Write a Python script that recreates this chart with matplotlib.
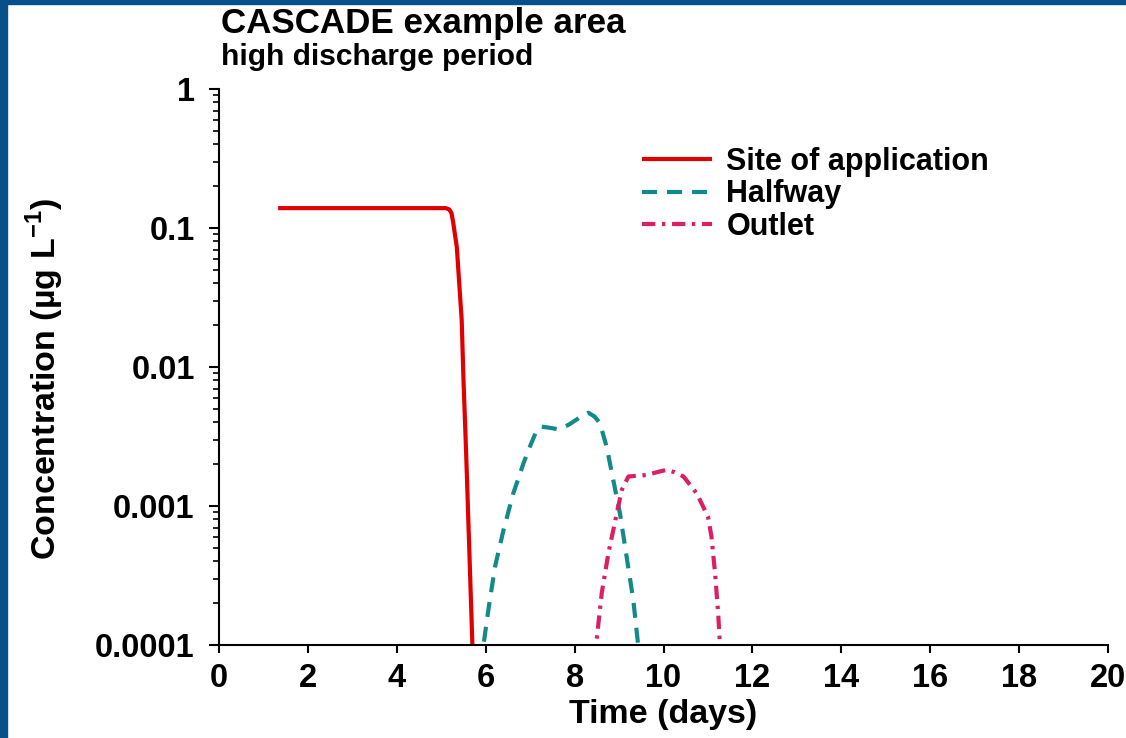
import matplotlib
matplotlib.use("Agg")
import matplotlib.pyplot as plt
from matplotlib.patches import Rectangle
from matplotlib.ticker import FixedLocator, LogLocator, FuncFormatter, NullFormatter

plt.rcParams['font.family'] = ['Liberation Sans', 'DejaVu Sans']
plt.rcParams['font.weight'] = 'bold'
plt.rcParams['mathtext.fontset'] = 'custom'
plt.rcParams['mathtext.rm'] = 'Liberation Sans:bold'
plt.rcParams['mathtext.bf'] = 'Liberation Sans:bold'

# ---- data ----
site_t = [1.33, 5.10, 5.18, 5.23, 5.27, 5.31, 5.35, 5.40, 5.46, 5.50, 5.56, 5.62, 5.68, 5.74]
site_c = [0.139, 0.139, 0.136, 0.128, 0.109, 0.089, 0.073, 0.042, 0.0218, 0.0081, 0.0024,
          0.00062, 0.00016, 0.00004]

half_t = [5.90, 5.95, 6.06, 6.21, 6.40, 6.62, 6.85, 7.00, 7.15, 7.26, 7.45, 7.64, 7.86,
          8.10, 8.31, 8.45, 8.57, 8.72, 8.87, 9.02, 9.17, 9.32, 9.43, 9.48]
half_c = [0.00007, 0.0001, 0.000179, 0.000366, 0.00067, 0.00123, 0.00203, 0.0027, 0.00352,
          0.00372, 0.00365, 0.00356, 0.00383, 0.0043, 0.00469, 0.0044, 0.00394, 0.00267,
          0.00154, 0.000886, 0.000432, 0.000211, 0.0001, 0.00007]

out_t = [8.44, 8.50, 8.61, 8.76, 8.95, 9.06, 9.21, 9.40, 9.62, 9.85, 10.07, 10.25, 10.45,
         10.75, 11.00, 11.08, 11.16, 11.23, 11.27, 11.30]
out_c = [0.00008, 0.000112, 0.000236, 0.000457, 0.000886, 0.0013, 0.00163, 0.00165, 0.00167,
         0.00175, 0.00182, 0.00175, 0.00163, 0.00123, 0.000838, 0.0006, 0.000328, 0.000169,
         0.0001, 0.00007]

x_ticks = [0, 2, 4, 6, 8, 10, 12, 14, 16, 18, 20]
y_ticks = [0.0001, 0.001, 0.01, 0.1, 1]
y_tick_labels = ['0.0001', '0.001', '0.01', '0.1', '1']

labels = ['Site of application', 'Halfway', 'Outlet']
colors = ['#e00000', '#138a8a', '#dc1f65']

# ---- figure ----
W, H = 1126, 738
fig = plt.figure(figsize=(W / 100, H / 100), dpi=100)
fig.patch.set_facecolor('white')

ax = fig.add_axes([219 / W, 1 - 645 / H, (1108 - 219) / W, (645 - 89) / H])
ax.set_yscale('log')
ax.set_xlim(0, 20)
ax.set_ylim(1e-4, 1)

ax.plot(site_t, site_c, color=colors[0], lw=3.0, solid_capstyle='butt', label=labels[0])
ax.plot(half_t, half_c, color=colors[1], lw=3.0, dashes=(3.6, 2.4), label=labels[1])
ax.plot(out_t, out_c, color=colors[2], lw=3.0, dashes=(3.2, 1.6, 0.8, 1.6), label=labels[2])

for s in ['top', 'right']:
    ax.spines[s].set_visible(False)
for s in ['left', 'bottom']:
    ax.spines[s].set_linewidth(1.5)

ax.xaxis.set_major_locator(FixedLocator(x_ticks))
ax.set_xticklabels([str(v) for v in x_ticks])
ax.yaxis.set_major_locator(FixedLocator(y_ticks))
ax.yaxis.set_major_formatter(FuncFormatter(
    lambda v, p: y_tick_labels[min(range(len(y_ticks)), key=lambda i: abs(y_ticks[i] - v))]))
ax.yaxis.set_minor_locator(LogLocator(base=10, subs=range(2, 10)))
ax.yaxis.set_minor_formatter(NullFormatter())

ax.tick_params(axis='both', which='major', direction='out', width=1.5, labelsize=23.5, colors='black')
ax.tick_params(axis='x', which='major', length=6, pad=7)
ax.tick_params(axis='y', which='major', length=7.5, pad=10)
ax.tick_params(axis='y', which='minor', direction='out', length=4, width=1.2)
for lab in ax.get_xticklabels() + ax.get_yticklabels():
    lab.set_fontweight('bold')

ax.set_xlabel('Time (days)', fontsize=24.5, fontweight='bold')
ax.set_ylabel(r'Concentration (µg L$^{\mathbf{-1}}$)', fontsize=24.5, fontweight='bold')
ax.xaxis.set_label_coords(0.5, (645 - 699) / (645 - 89))
ax.yaxis.set_label_coords((66 - 219) / (1108 - 219), (645 - 379) / (645 - 89))

leg = ax.legend(loc='upper left', bbox_to_anchor=((642 - 219) / (1108 - 219), (645 - 147) / (645 - 89)),
                frameon=False, fontsize=22, handlelength=2.3, handletextpad=0.46,
                labelspacing=0.08, borderaxespad=0, borderpad=0)
for t in leg.get_texts():
    t.set_fontweight('bold')

fig.text(221 / W, 1 - 33 / H, 'CASCADE example area', fontsize=25.2, fontweight='bold', va='baseline', ha='left')
fig.text(221 / W, 1 - 65 / H, 'high discharge period', fontsize=21.5, fontweight='bold', va='baseline', ha='left')

# blue frame on left and top edges
border = '#07508a'
fig.patches.append(Rectangle((0, 0), 7 / W, 1, transform=fig.transFigure, color=border, zorder=10))
fig.patches.append(Rectangle((0, 1 - 4 / H), 1, 4 / H, transform=fig.transFigure, color=border, zorder=10))

fig.savefig('out.png', dpi=100)
